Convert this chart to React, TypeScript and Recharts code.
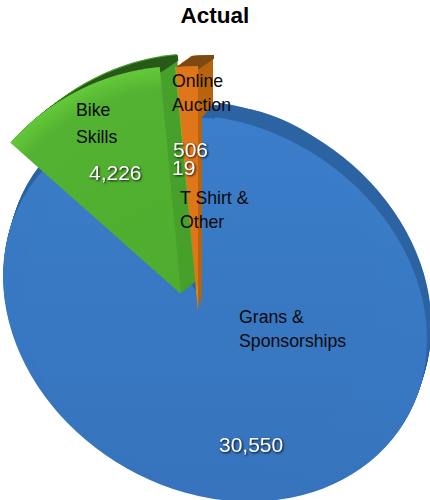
import React from 'react';
import { PieChart, Pie, Cell } from 'recharts';

const categories = ['Grans & Sponsorships', 'Bike Skills', 'T Shirt & Other', 'Online Auction'];
const actualValues = [30550, 4226, 19, 506];

const chartData = categories.map((name, i) => ({ name, value: actualValues[i] }));

const GRANS = 0;
const BIKE = 1;
const TSHIRT = 2;
const ONLINE = 3;

// the blue disc is a skewed ellipse, drawn by transforming a circle
const DISC_CX = 215;
const DISC_CY = 308;
const DISC_RY = 191;
const DISC_SX = 212 / 191;
const DISC_SKEW = 0.15;

interface SliceProps {
  slice: number;
  fill: string;
  cx: number;
  cy: number;
  inner?: number;
  outer: number;
  extra?: object;
  id: string;
}

// one Pie with every slice hidden except the one asked for
const slicePie = ({ slice, fill, cx, cy, inner = 0, outer, extra, id }: SliceProps) => (
  <Pie
    key={id}
    data={chartData}
    dataKey="value"
    cx={cx}
    cy={cy}
    innerRadius={inner}
    outerRadius={outer}
    startAngle={90}
    endAngle={-270}
    stroke="none"
    labelLine={false}
    isAnimationActive={false}
  >
    {chartData.map((_, i) => (
      <Cell key={`c-${i}`} fill={i === slice ? fill : 'none'} {...(i === slice ? extra : {})} />
    ))}
  </Pie>
);

// stacks copies of a slice to fake the extruded side
const extrude = (
  name: string,
  slice: number,
  fill: string,
  cx: number,
  cy: number,
  inner: number,
  outer: number,
  dx: number,
  dy: number,
  extra?: object,
) => {
  const steps = Math.ceil(Math.max(Math.abs(dx), Math.abs(dy)));
  const out = [];
  for (let k = steps; k >= 1; k--) {
    out.push(
      slicePie({
        slice,
        fill,
        cx: cx + (dx * k) / steps,
        cy: cy + (dy * k) / steps,
        inner,
        outer,
        extra,
        id: `${name}-${k}`,
      }),
    );
  }
  return out;
};

const discTransform = (ox = DISC_CX) => ({
  transform: `matrix(${DISC_SX} ${DISC_SKEW * DISC_SX} 0 1 ${ox * (1 - DISC_SX)} ${-DISC_SKEW * DISC_SX * ox})`,
});

const valueStyle: React.CSSProperties = {
  fontFamily: 'Liberation Sans',
  fontSize: 21,
  fill: '#fff',
  filter: 'drop-shadow(1px 1.5px 1px rgba(0,0,0,0.85))',
};

const nameStyle: React.CSSProperties = {
  fontFamily: 'Liberation Sans',
  fontSize: 17.7,
  fill: '#0a0a0a',
};

export default function App() {
  return (
    <div style={{ position: 'absolute', left: 0, top: 0, width: 430, height: 500 }}>
      <PieChart width={430} height={500} margin={{ top: 0, right: 0, bottom: 0, left: 0 }}>
        <defs>
          <clipPath id="beforeBlue">
            <rect x={0} y={0} width={201.5} height={500} />
          </clipPath>
          <radialGradient id="greenFace" gradientUnits="userSpaceOnUse" cx={181} cy={294} r={228}>
            <stop offset="0%" stopColor="#4fac2f" />
            <stop offset="90%" stopColor="#53b231" />
            <stop offset="100%" stopColor="#63c939" />
          </radialGradient>
          <linearGradient id="blueFace" gradientUnits="userSpaceOnUse" x1={0} y1={100} x2={0} y2={500}>
            <stop offset="0%" stopColor="#3b7eca" />
            <stop offset="100%" stopColor="#3673bc" />
          </linearGradient>
        </defs>

        {/* orange side sits behind the blue */}
        {extrude('orangeWall', ONLINE, '#b8640f', 198, 310, 0, 244, 15, -11)}

        {/* blue rim, then the face */}
        {extrude('blueRim', GRANS, '#2d64a3', DISC_CX, DISC_CY, 0, DISC_RY, 4, -15, discTransform())}
        {extrude('blueRimTop', GRANS, '#2d64a3', 201, 296, 0, 178, 11, -13)}
        {slicePie({
          slice: GRANS,
          fill: 'url(#blueFace)',
          cx: DISC_CX,
          cy: DISC_CY,
          outer: DISC_RY,
          extra: discTransform(),
          id: 'blueDisc',
        })}
        {slicePie({ slice: GRANS, fill: 'url(#blueFace)', cx: 201, cy: 296, outer: 178, id: 'bluePatch' })}

        {/* green wedge */}
        {extrude('greenWall', BIKE, '#47a02b', 181, 294, 0, 228, 17, -13)}
        {extrude('greenTop', BIKE, '#2a5a1a', 181, 294, 222, 228, 18, -12)}
        {slicePie({ slice: BIKE, fill: 'url(#greenFace)', cx: 181, cy: 294, outer: 228, id: 'greenFace' })}

        {/* thin slices go on last */}
        {extrude('orangeSide', ONLINE, '#b8640f', 198, 310, 0, 244, 15, -11, { clipPath: 'url(#beforeBlue)' })}
        {extrude('orangeTop', ONLINE, '#7d4a12', 198, 310, 240, 244, 16, -11)}
        {slicePie({ slice: ONLINE, fill: '#e0761a', cx: 198, cy: 310, outer: 244, id: 'orangeFace' })}
        {slicePie({ slice: TSHIRT, fill: '#d2a21e', cx: 198, cy: 310, outer: 244, id: 'shirtFace' })}
        {slicePie({ slice: ONLINE, fill: '#c8921a', cx: 198, cy: 310, outer: 24, id: 'orangeTip' })}
      </PieChart>

      {/* Recharts paints pies over its svg children, so text goes in its own layer */}
      <svg width={430} height={500} style={{ position: 'absolute', left: 0, top: 0 }}>
        <text x={215} y={23} textAnchor="middle" style={{ fontFamily: 'Liberation Sans', fontSize: 22.5, fontWeight: 700, fill: '#000' }}>
          Actual
        </text>
        <text x={76} y={116} style={nameStyle}>Bike</text>
        <text x={76} y={143} style={nameStyle}>Skills</text>
        <text x={172} y={87} style={nameStyle}>Online</text>
        <text x={172} y={111} style={nameStyle}>Auction</text>
        <text x={180} y={204} style={nameStyle}>T Shirt &amp;</text>
        <text x={180} y={228} style={nameStyle}>Other</text>
        <text x={239} y={323} style={nameStyle}>Grans &amp;</text>
        <text x={239} y={347} style={nameStyle}>Sponsorships</text>
        <text x={89} y={180} style={valueStyle}>4,226</text>
        <text x={173} y={157} style={valueStyle}>506</text>
        <text x={172} y={175} style={valueStyle}>19</text>
        <text x={219} y={452} style={valueStyle}>30,550</text>
      </svg>
    </div>
  );
}
